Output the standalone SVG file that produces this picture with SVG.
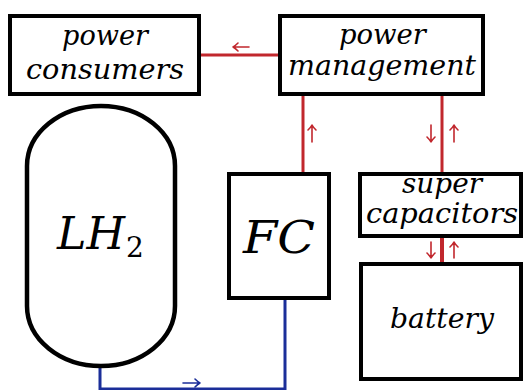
<svg xmlns="http://www.w3.org/2000/svg" width="524" height="390" viewBox="0 0 524 390">
<style>
.box{fill:#fff;stroke:#000;stroke-width:4}
.tank{fill:#fff;stroke:#000;stroke-width:4.5}
text{font-family:'DejaVu Serif',serif;fill:#000}
.lbl{font-style:italic;font-size:28px}
.big{font-size:44px}
.sub{font-size:28px}
.red{stroke:#c1272d;fill:none;stroke-width:3}
.redthick{stroke:#c1272d;fill:none;stroke-width:4}
.blue{stroke:#1b2e99;fill:none;stroke-width:3}
.ra{stroke:#c1272d;fill:none;stroke-width:1.6;stroke-linecap:round;stroke-linejoin:round}
.ba{stroke:#1b2e99;fill:none;stroke-width:1.6;stroke-linecap:round;stroke-linejoin:round}
</style>
<rect width="524" height="390" fill="#fff"/>
<g id="connectors">
<line class="red" x1="201" y1="55" x2="278" y2="55"/>
<path class="ra" d="M249,47 H233 M238,43 Q235,46 233,47 Q235,48 238,51"/>
<line class="red" x1="303" y1="96" x2="303" y2="172"/>
<path class="ra" d="M312,142 V125 M308,130 Q311,127 312,125 Q313,127 316,130"/>
<line class="red" x1="442" y1="96" x2="442" y2="172"/>
<path class="ra" d="M431,125 V142 M427,137 Q430,140 431,142 Q432,140 435,137"/>
<path class="ra" d="M454,142 V125 M450,130 Q453,127 454,125 Q455,127 458,130"/>
<line class="redthick" x1="442" y1="238" x2="442" y2="262"/>
<path class="ra" d="M431,242 V258 M427,253 Q430,256 431,258 Q432,256 435,253"/>
<path class="ra" d="M454,258 V242 M450,247 Q453,244 454,242 Q455,244 458,247"/>
<path class="blue" d="M100,368 V389 H285 V300"/>
<path class="ba" d="M183,383 H200 M195,379 Q198,382 200,383 Q198,384 195,387"/>
</g>
<g id="power-consumers">
<rect class="box" x="10" y="16" width="189" height="78"/>
<text class="lbl" x="62" y="45" textLength="86" lengthAdjust="spacingAndGlyphs">power</text>
<text class="lbl" x="26" y="79" textLength="158" lengthAdjust="spacingAndGlyphs">consumers</text>
</g>
<g id="power-management">
<rect class="box" x="280" y="16" width="203" height="78"/>
<text class="lbl" x="339" y="44" textLength="87" lengthAdjust="spacingAndGlyphs">power</text>
<text class="lbl" x="288" y="75" textLength="188" lengthAdjust="spacingAndGlyphs">management</text>
</g>
<g id="lh2">
<path class="tank" d="M27,166 A74,60 0 0 1 175,166 L175,306 A74,60 0 0 1 27,306 Z"/>
<text class="lbl big" x="57" y="249" textLength="68" lengthAdjust="spacingAndGlyphs">LH</text>
<text class="sub" x="126" y="257">2</text>
</g>
<g id="fc">
<rect class="box" x="229" y="174" width="100" height="124"/>
<text class="lbl big" x="243" y="253" textLength="72" lengthAdjust="spacingAndGlyphs">FC</text>
</g>
<g id="supercapacitors">
<rect class="box" x="360" y="174" width="161" height="62"/>
<text class="lbl" x="402" y="193" textLength="80" lengthAdjust="spacingAndGlyphs">super</text>
<text class="lbl" x="366" y="223" textLength="152" lengthAdjust="spacingAndGlyphs">capacitors</text>
</g>
<g id="battery">
<rect class="box" x="361" y="264" width="160" height="115"/>
<text class="lbl" x="390" y="328" textLength="104" lengthAdjust="spacingAndGlyphs">battery</text>
</g>
</svg>
